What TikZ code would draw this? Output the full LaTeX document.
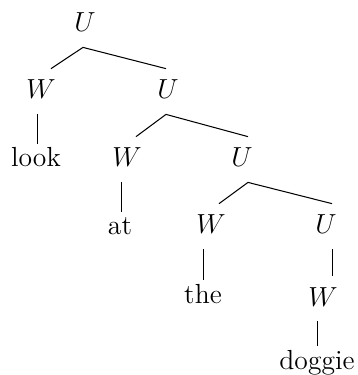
\documentclass[tikz,border=0pt]{standalone}
\usepackage{graphicx}
\usetikzlibrary{calc}
\definecolor{treeInk}{HTML}{000000}
\newcommand{\catlabel}[1]{$#1$}
\newcommand{\wordlabel}[1]{#1}
\tikzset{
  every picture/.style={text=treeInk},
  tree cat/.style={anchor=base, inner sep=0pt, text height=13pt, text depth=6.5pt,
    font=\fontsize{13}{15}\selectfont},
  tree word/.style={anchor=base, inner sep=0pt, text height=10pt, text depth=0pt,
    font=\fontsize{12}{14}\selectfont},
  tree edge/.style={draw=treeInk, line width=0.45pt}
}

\begin{document}
\begin{tikzpicture}[x=0.435pt,y=-0.435pt]
  \useasboundingbox (0,0) rectangle (357,375);
  % categories
  \node[tree cat] (u1) at (85,32) {\catlabel{U}};
  \node[tree cat] (w1) at (41,99) {\catlabel{W}};
  \node[tree cat] (u2) at (168,99) {\catlabel{U}};
  \node[tree cat] (w2) at (127,167) {\catlabel{W}};
  \node[tree cat] (u3) at (242,167) {\catlabel{U}};
  \node[tree cat] (w3) at (211,234) {\catlabel{W}};
  \node[tree cat] (u4) at (326,234) {\catlabel{U}};
  \node[tree cat] (w5) at (323,306) {\catlabel{W}};
  % words
  \node[tree word] (look) at (36,167) {\wordlabel{look}};
  \node[tree word] (at) at (120,235) {\wordlabel{at}};
  \node[tree word] (the) at (203,303) {\wordlabel{the}};
  \node[tree word] (doggie) at (317,369) {\wordlabel{doggie}};
  % branches
  \draw[tree edge] ($(w1.north)+(10,0)$) -- ($(u1.south)+(-2,0)$) -- ($(u2.north)+(-2,0)$);
  \draw[tree edge] ($(u3.north)+(6,0)$) -- ($(u2.south)+(-2,0)$) -- ($(w2.north)+(9,0)$);
  \draw[tree edge] ($(w3.north)+(8,0)$) -- ($(u3.south)+(6,0)$) -- ($(u4.north)+(6,0)$);
  \draw[tree edge] ($(w1.south)+(-3.5,0)$) -- ($(look.north)+(1.5,0)$);
  \draw[tree edge] ($(w2.south)+(-5.5,0)$) -- ($(at.north)+(1.5,0)$);
  \draw[tree edge] ($(w3.south)+(-7.5,0)$) -- ($(the.north)+(0.5,0)$);
  \draw[tree edge] ($(u4.south)+(6.5,0)$) -- ($(w5.north)+(9.5,0)$);
  \draw[tree edge] ($(w5.south)+(-5.5,0)$) -- ($(doggie.north)+(0.5,0)$);
\end{tikzpicture}
\end{document}
